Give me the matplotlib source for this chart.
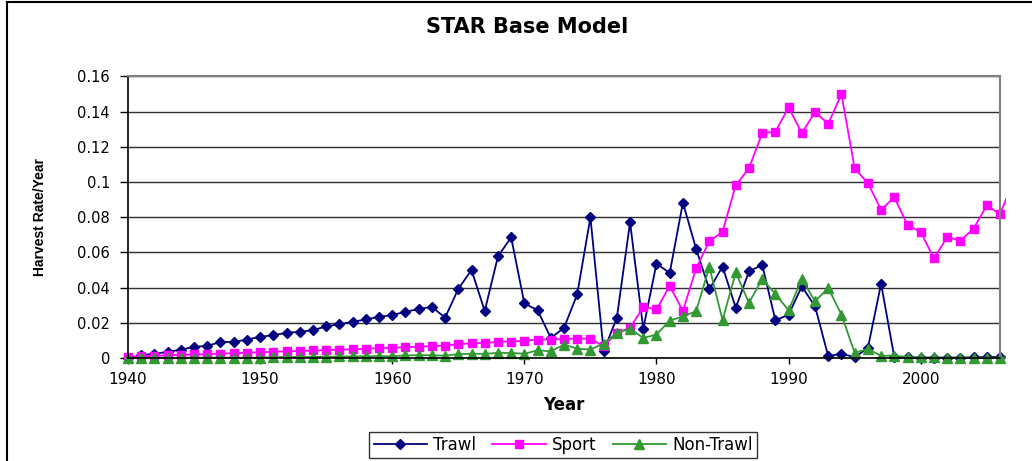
import numpy as np
import matplotlib
matplotlib.use("Agg")
import matplotlib.pyplot as plt
from matplotlib.patches import Rectangle
from matplotlib.transforms import Bbox, TransformedBbox

# Harvest rate per year
years = list(range(1940, 2008))

trawl = [0.0, 0.0015, 0.0025, 0.0034, 0.0048, 0.0063, 0.0069, 0.0091, 0.0091, 0.0105,
         0.0120, 0.0130, 0.0143, 0.0149, 0.0158, 0.0180, 0.0192, 0.0206, 0.0219, 0.0234,
         0.0244, 0.0263, 0.0278, 0.0291, 0.0229, 0.0393, 0.0500, 0.0267, 0.0577, 0.0686,
         0.0310, 0.0272, 0.0114, 0.0171, 0.0362, 0.0800, 0.0038, 0.0229, 0.0771, 0.0166,
         0.0537, 0.0483, 0.0883, 0.0620, 0.0390, 0.0520, 0.0285, 0.0492, 0.0530, 0.0214,
         0.0246, 0.0407, 0.0294, 0.0010, 0.0025, 0.0004, 0.0057, 0.0422, 0.0004, 0.0003,
         0.0002, 0.0002, 0.0002, 0.0002, 0.0003, 0.0006, 0.0006, 0.0004]

sport = [0.0005, 0.0010, 0.0012, 0.0015, 0.0018, 0.0020, 0.0022, 0.0025, 0.0027, 0.0030,
         0.0033, 0.0035, 0.0038, 0.0040, 0.0043, 0.0045, 0.0047, 0.0050, 0.0052, 0.0056,
         0.0058, 0.0062, 0.0064, 0.0068, 0.0071, 0.0078, 0.0084, 0.0086, 0.0092, 0.0093,
         0.0099, 0.0104, 0.0105, 0.0109, 0.0110, 0.0110, 0.0067, 0.0143, 0.0171, 0.0290,
         0.0276, 0.0410, 0.0267, 0.0510, 0.0663, 0.0718, 0.0982, 0.1078, 0.1278, 0.1286,
         0.1424, 0.1278, 0.1398, 0.1331, 0.1500, 0.1078, 0.0994, 0.0843, 0.0913, 0.0756,
         0.0716, 0.0566, 0.0686, 0.0667, 0.0735, 0.0867, 0.0818, 0.1000]

non_trawl = [0.0001, 0.0001, 0.0001, 0.0001, 0.0001, 0.0002, 0.0002, 0.0002, 0.0002, 0.0002,
             0.0002, 0.0005, 0.0006, 0.0006, 0.0006, 0.0007, 0.0009, 0.0009, 0.0010, 0.0010,
             0.0010, 0.0015, 0.0016, 0.0016, 0.0013, 0.0022, 0.0024, 0.0024, 0.0029, 0.0029,
             0.0024, 0.0044, 0.0038, 0.0076, 0.0053, 0.0048, 0.0082, 0.0143, 0.0166, 0.0114,
             0.0133, 0.0213, 0.0236, 0.0266, 0.0518, 0.0215, 0.0487, 0.0313, 0.0449, 0.0364,
             0.0271, 0.0449, 0.0322, 0.0398, 0.0246, 0.0030, 0.0051, 0.0013, 0.0013, 0.0006,
             0.0003, 0.0003, 0.0002, 0.0002, 0.0002, 0.0002, 0.0002, 0.0002]

series_names = ["Trawl", "Sport", "Non-Trawl"]
y_ticks = [0, 0.02, 0.04, 0.06, 0.08, 0.1, 0.12, 0.14, 0.16]
y_tick_labels = ["0", "0.02", "0.04", "0.06", "0.08", "0.1", "0.12", "0.14", "0.16"]
x_ticks = [1940, 1950, 1960, 1970, 1980, 1990, 2000]

plt.rcParams["font.family"] = ["DejaVu Sans"]

fig = plt.figure(figsize=(10.32, 4.61), dpi=100)
ax = fig.add_axes([128 / 1032, 103 / 461, 872 / 1032, 281.5 / 461])

ax.set_axisbelow(True)
ax.yaxis.grid(True, color="#303030", lw=1)

l1, = ax.plot(years, trawl, color="#000080", marker="D", ms=5, lw=1.3, label=series_names[0])
l2, = ax.plot(years, sport, color="#FF00FF", marker="s", ms=5.5, lw=1.3, label=series_names[1])
l3, = ax.plot(years, non_trawl, color="#339933", marker="^", ms=6.5, lw=1.3, label=series_names[2])

# Excel lets the markers spill over the plot edges a little
clip = TransformedBbox(Bbox([[-0.03, -0.04], [1.007, 1.04]]), ax.transAxes)
for ln in (l1, l2, l3):
    ln.set_clip_box(clip)

ax.set_xlim(1940, 2006)
ax.set_ylim(0, 0.16)
ax.set_xticks(x_ticks)
ax.set_yticks(y_ticks)
ax.set_yticklabels(y_tick_labels)
ax.tick_params(axis="y", direction="out", length=6, width=1, pad=7, labelsize=10.5)
ax.tick_params(axis="x", direction="out", length=4, width=1, pad=6, labelsize=11)

for side in ("top", "right"):
    ax.spines[side].set_color("#808080")
    ax.spines[side].set_linewidth(1.5)
for side in ("left", "bottom"):
    ax.spines[side].set_color("black")
    ax.spines[side].set_linewidth(1.2)

ax.set_xlabel("Year", fontsize=12, fontweight="bold", va="center")
ax.xaxis.set_label_coords(0.5, -47 / 281.5)
ax.set_ylabel("Harvest Rate/Year", fontsize=10, fontweight="bold",
              family=["Liberation Sans", "DejaVu Sans"], va="center")
ax.yaxis.set_label_coords(-88 / 872, 0.5)

fig.text(527 / 1032, 1 - 27 / 461, "STAR Base Model", fontsize=15, fontweight="bold",
         ha="center", va="center")

leg = fig.legend(handles=[l1, l2, l3], loc="center", bbox_to_anchor=(563 / 1032, 16 / 461),
                 ncol=3, fontsize=12, frameon=True, fancybox=False, edgecolor="black",
                 handlelength=3.2, handletextpad=0.35, columnspacing=1.0, borderpad=0.25,
                 borderaxespad=0, numpoints=1)
leg.get_frame().set_linewidth(1)

# outer chart border (cut off on the right and bottom)
fig.patches.append(Rectangle((7 / 1032, -0.05), 1.2, 1.05 - 2.5 / 461, transform=fig.transFigure,
                             fill=False, edgecolor="black", lw=1.5, clip_on=False))

fig.savefig("out.png", dpi=100)
